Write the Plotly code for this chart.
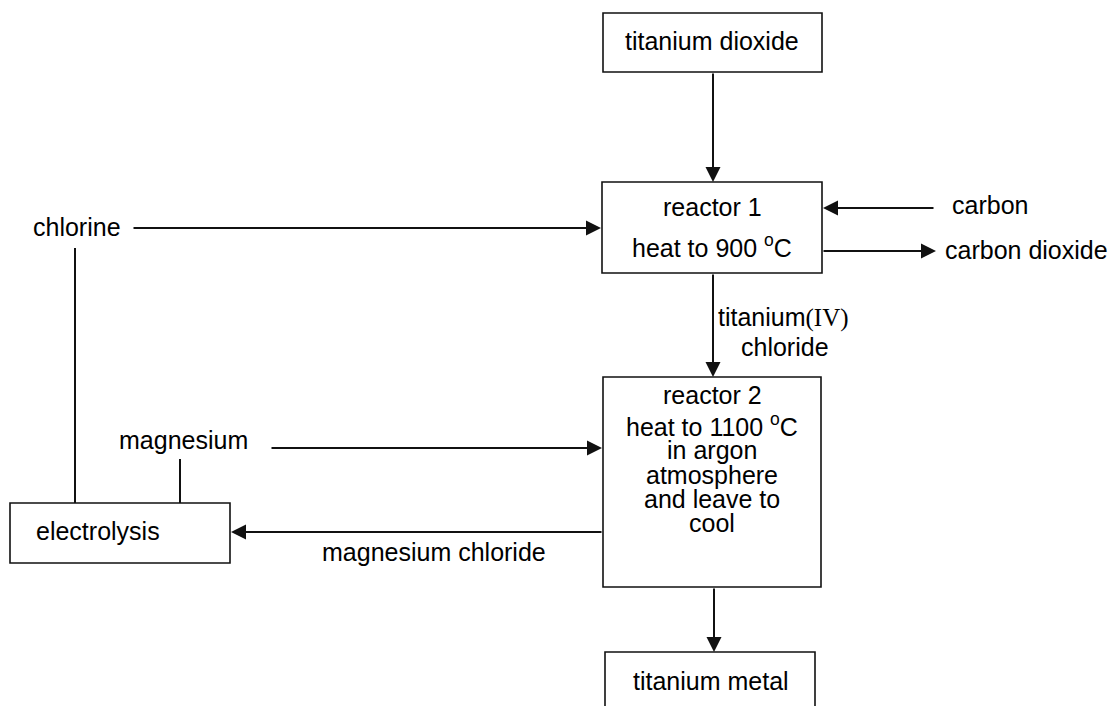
import plotly.graph_objects as go

# ---- diagram content ----
box_names = ["titanium dioxide", "reactor 1", "reactor 2", "titanium metal", "electrolysis"]
reactor1_lines = ["reactor 1", "heat to 900 <sup>o</sup>C"]
reactor2_lines = ["reactor 2", "heat to 1100 <sup>o</sup>C", "in argon", "atmosphere", "and leave to", "cool"]
free_labels = ["chlorine", "magnesium", "carbon", "carbon dioxide", "magnesium chloride"]
ticl4_lines = ["titanium<span style='font-family:Liberation Serif'>(IV)</span>", "chloride"]

# ---- layout geometry (pixel space) ----
W, H = 1111, 706
boxes = {
    "titanium dioxide": (603, 13, 822, 72),
    "reactor 1": (602, 182, 822, 273),
    "reactor 2": (603, 377, 821, 587),
    "titanium metal": (605, 652, 815, 740),
    "electrolysis": (10, 503, 230, 563),
}
box_text_pos = {
    "titanium dioxide": (712, 41),
    "titanium metal": (711, 681),
    "electrolysis": (98, 531),
}
r1_y = [207, 246]
r2_y = [395, 425, 450, 475, 499, 523]
label_pos = {
    "chlorine": (31, 227, "left"),
    "magnesium": (117, 440, "left"),
    "carbon": (950, 205, "left"),
    "carbon dioxide": (943, 250, "left"),
    "magnesium chloride": (434, 552, "center"),
}
ticl4_pos = [(716, 317, "left"), (785, 347, "center")]
# arrows: (x_tail, y_tail, x_head, y_head)
arrows = [
    (713, 72, 713, 182),
    (132, 228, 601, 228),
    (935, 208, 823, 208),
    (822, 251, 936, 251),
    (713, 273, 713, 377),
    (270, 448, 602, 448),
    (603, 532, 231, 532),
    (714, 587, 714, 652),
]
plain_lines = [
    (75, 248, 75, 503),
    (180, 459, 180, 503),
]

FONT = "Liberation Sans, Arial, sans-serif"
FS = 25
LC = "#111111"

fig = go.Figure()
fig.add_trace(go.Scatter(x=[0, W], y=[0, H], mode="markers", marker=dict(opacity=0), hoverinfo="skip", showlegend=False))

for name in box_names:
    x0, y0, x1, y1 = boxes[name]
    fig.add_shape(type="rect", x0=x0, y0=y0, x1=x1, y1=y1, xref="x", yref="y",
                  line=dict(color=LC, width=1.6), fillcolor="rgba(0,0,0,0)")
    if name in box_text_pos:
        tx, ty = box_text_pos[name]
        fig.add_annotation(x=tx, y=ty, text=name, showarrow=False, xanchor="center", yanchor="middle",
                           font=dict(family=FONT, size=FS, color="black"))

cx = (boxes["reactor 1"][0] + boxes["reactor 1"][2]) / 2
for line, y in zip(reactor1_lines, r1_y):
    fig.add_annotation(x=cx, y=y, text=line, showarrow=False, xanchor="center", yanchor="middle",
                       font=dict(family=FONT, size=FS, color="black"))
cx2 = (boxes["reactor 2"][0] + boxes["reactor 2"][2]) / 2
for line, y in zip(reactor2_lines, r2_y):
    fig.add_annotation(x=cx2, y=y, text=line, showarrow=False, xanchor="center", yanchor="middle",
                       font=dict(family=FONT, size=FS, color="black"))

for lab in free_labels:
    x, y, anc = label_pos[lab]
    fig.add_annotation(x=x, y=y, text=lab, showarrow=False, xanchor=anc, yanchor="middle",
                       font=dict(family=FONT, size=FS, color="black"))

for line, (x, y, anc) in zip(ticl4_lines, ticl4_pos):
    fig.add_annotation(x=x, y=y, text=line, showarrow=False, xanchor=anc, yanchor="middle",
                       font=dict(family=FONT, size=FS, color="black"))

for (xt, yt, xh, yh) in arrows:
    fig.add_annotation(x=xh, y=yh, ax=xt, ay=yt, xref="x", yref="y", axref="x", ayref="y",
                       text="", showarrow=True, arrowhead=2, arrowsize=1.5, arrowwidth=2,
                       arrowcolor=LC, standoff=0)

for (x0, y0, x1, y1) in plain_lines:
    fig.add_shape(type="line", x0=x0, y0=y0, x1=x1, y1=y1, xref="x", yref="y",
                  line=dict(color=LC, width=2))

fig.update_layout(
    width=W, height=H, margin=dict(l=0, r=0, t=0, b=0),
    paper_bgcolor="white", plot_bgcolor="white", showlegend=False,
    xaxis=dict(range=[0, W], visible=False, fixedrange=True),
    yaxis=dict(range=[H, 0], visible=False, fixedrange=True),
)
fig.write_html("out.html", config={"displayModeBar": False})

# remove the browser's default page margin so the figure fills the window exactly
with open("out.html", "r", encoding="utf-8") as f:
    html = f.read()
html = html.replace("<head>", "<head><style>html,body{margin:0;padding:0;overflow:hidden;}</style>", 1)
with open("out.html", "w", encoding="utf-8") as f:
    f.write(html)
